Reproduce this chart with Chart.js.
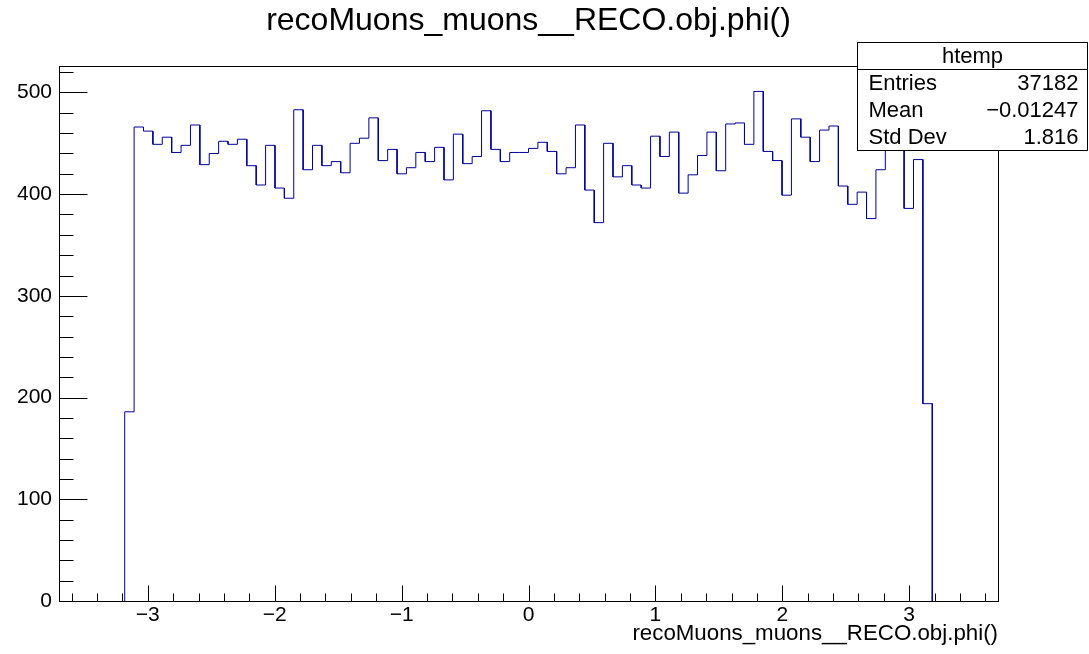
<!DOCTYPE html>
<html>
<head>
<meta charset="utf-8">
<script src="https://cdn.jsdelivr.net/npm/chart.js@4.4.0/dist/chart.umd.min.js"></script>
<style>
html, body { margin: 0; padding: 0; background: #fff; }
canvas { display: block; }
</style>
</head>
<body>
<canvas id="phiChart" width="1089" height="654"></canvas>
<script>
// htemp: 100 bins between xMin and xMax, only bins 7..92 are filled
const xMin = -3.7;
const xMax = 3.7;
const nBins = 100;
const firstBin = 7;

// contents of the filled bins, left to right
const binCounts = [
    186, 466, 462, 449, 456, 441, 448, 468, 429, 440,
    452, 449, 454, 428, 409, 448, 406, 396, 483, 424,
    448, 428, 432, 421, 450, 455, 475, 433, 444, 420,
    426, 441, 432, 446, 414, 459, 430, 437, 482, 444,
    432, 441, 441, 445, 451, 442, 420, 426, 468, 404,
    372, 450, 417, 428, 409, 406, 457, 437, 461, 401,
    419, 438, 461, 423, 469, 470, 449, 501, 442, 433,
    399, 474, 456, 432, 463, 467, 408, 390, 402, 376,
    424, 470, 455, 386, 434, 194
];

const xTickValues = [-3, -2, -1, 0, 1, 2, 3];
const yTickValues = [0, 100, 200, 300, 400, 500];
const yMax = 526;

const titleText = "recoMuons_muons__RECO.obj.phi()";
const xAxisTitle = "recoMuons_muons__RECO.obj.phi()";
const statsName = "htemp";
const statsLabels = ["Entries", "Mean", "Std Dev"];
const statsValues = ["37182", "\u22120.01247", "1.816"];

const FONT = "'Liberation Sans', Arial, Helvetica, sans-serif";
const lineColor = "#000099";

// outline of the histogram as corner points
const binWidth = (xMax - xMin) / nBins;
const outline = [];
outline.push({ x: xMin + firstBin * binWidth, y: 0 });
binCounts.forEach((c, i) => {
    const lo = xMin + (firstBin + i) * binWidth;
    outline.push({ x: lo, y: c });
    outline.push({ x: lo + binWidth, y: c });
});
outline.push({ x: xMin + (firstBin + binCounts.length) * binWidth, y: 0 });

function fmtMinus(v) {
    return v < 0 ? "\u2212" + Math.abs(v) : String(v);
}

// frame, inward ticks, titles and stats box the way ROOT draws them
const rootDecor = {
    id: "rootDecor",
    afterDraw(chart) {
        const ctx = chart.ctx;
        const area = chart.chartArea;
        const xs = chart.scales.x;
        const ys = chart.scales.y;
        ctx.save();

        ctx.strokeStyle = "#000";
        ctx.lineWidth = 1;
        ctx.strokeRect(Math.round(area.left) + 0.5, Math.round(area.top) + 0.5,
            Math.round(area.right - area.left), Math.round(area.bottom - area.top));

        // x ticks
        const bottom = Math.round(area.bottom) + 0.5;
        ctx.beginPath();
        for (let k = -36; k <= 36; k += 2) {
            const v = k / 10;
            const px = Math.round(xs.getPixelForValue(v)) + 0.5;
            const len = (k % 10 === 0) ? 16 : 8;
            ctx.moveTo(px, bottom);
            ctx.lineTo(px, bottom - len);
        }
        // y ticks
        const left = Math.round(area.left) + 0.5;
        for (let v = 0; v <= yMax; v += 20) {
            const py = Math.round(ys.getPixelForValue(v)) + 0.5;
            const len = (v % 100 === 0) ? 28 : 14;
            ctx.moveTo(left, py);
            ctx.lineTo(left + len, py);
        }
        ctx.stroke();

        // titles
        ctx.fillStyle = "#000";
        ctx.textBaseline = "middle";
        ctx.font = "32px " + FONT;
        ctx.textAlign = "center";
        ctx.fillText(titleText, (area.left + area.right) / 2, 21);
        ctx.font = "22.3px " + FONT;
        ctx.textAlign = "right";
        ctx.fillText(xAxisTitle, area.right, 634);

        // stats box
        const bx = 857.5, by = 42.5, bw = 230, rowH = 27;
        ctx.fillStyle = "#fff";
        ctx.fillRect(bx, by, bw, rowH * 4);
        ctx.strokeRect(bx, by, bw, rowH * 4);
        ctx.beginPath();
        ctx.moveTo(bx, by + rowH);
        ctx.lineTo(bx + bw, by + rowH);
        ctx.stroke();
        ctx.fillStyle = "#000";
        ctx.font = "22px " + FONT;
        ctx.textAlign = "center";
        ctx.fillText(statsName, bx + bw / 2, by + rowH / 2 + 1);
        statsLabels.forEach((lab, i) => {
            const cy = by + rowH * (i + 1) + rowH / 2 + 1;
            ctx.textAlign = "left";
            ctx.fillText(lab, bx + 11, cy);
            ctx.textAlign = "right";
            ctx.fillText(statsValues[i], bx + bw - 9, cy);
        });
        ctx.restore();
    }
};

new Chart(document.getElementById("phiChart"), {
    type: "line",
    data: {
        datasets: [{
            data: outline,
            borderColor: lineColor,
            borderWidth: 1,
            pointRadius: 0,
            tension: 0,
            fill: false
        }]
    },
    options: {
        responsive: false,
        animation: false,
        layout: { padding: { top: 66, right: 91, left: 0, bottom: 0 } },
        plugins: { legend: { display: false }, tooltip: { enabled: false } },
        scales: {
            x: {
                type: "linear",
                min: xMin,
                max: xMax,
                grid: { display: false, drawTicks: false },
                border: { display: false },
                afterFit: s => { s.height = 53; },
                afterBuildTicks: s => { s.ticks = xTickValues.map(v => ({ value: v })); },
                ticks: {
                    color: "#000",
                    padding: 2,
                    maxRotation: 0,
                    font: { family: FONT, size: 21 },
                    callback: v => fmtMinus(v)
                }
            },
            y: {
                min: 0,
                max: yMax,
                grid: { display: false, drawTicks: false },
                border: { display: false },
                afterFit: s => { s.width = 59; },
                afterBuildTicks: s => { s.ticks = yTickValues.map(v => ({ value: v })); },
                ticks: {
                    color: "#000",
                    padding: 7,
                    font: { family: FONT, size: 21 },
                    callback: v => String(v)
                }
            }
        }
    },
    plugins: [rootDecor]
});
</script>
</body>
</html>
